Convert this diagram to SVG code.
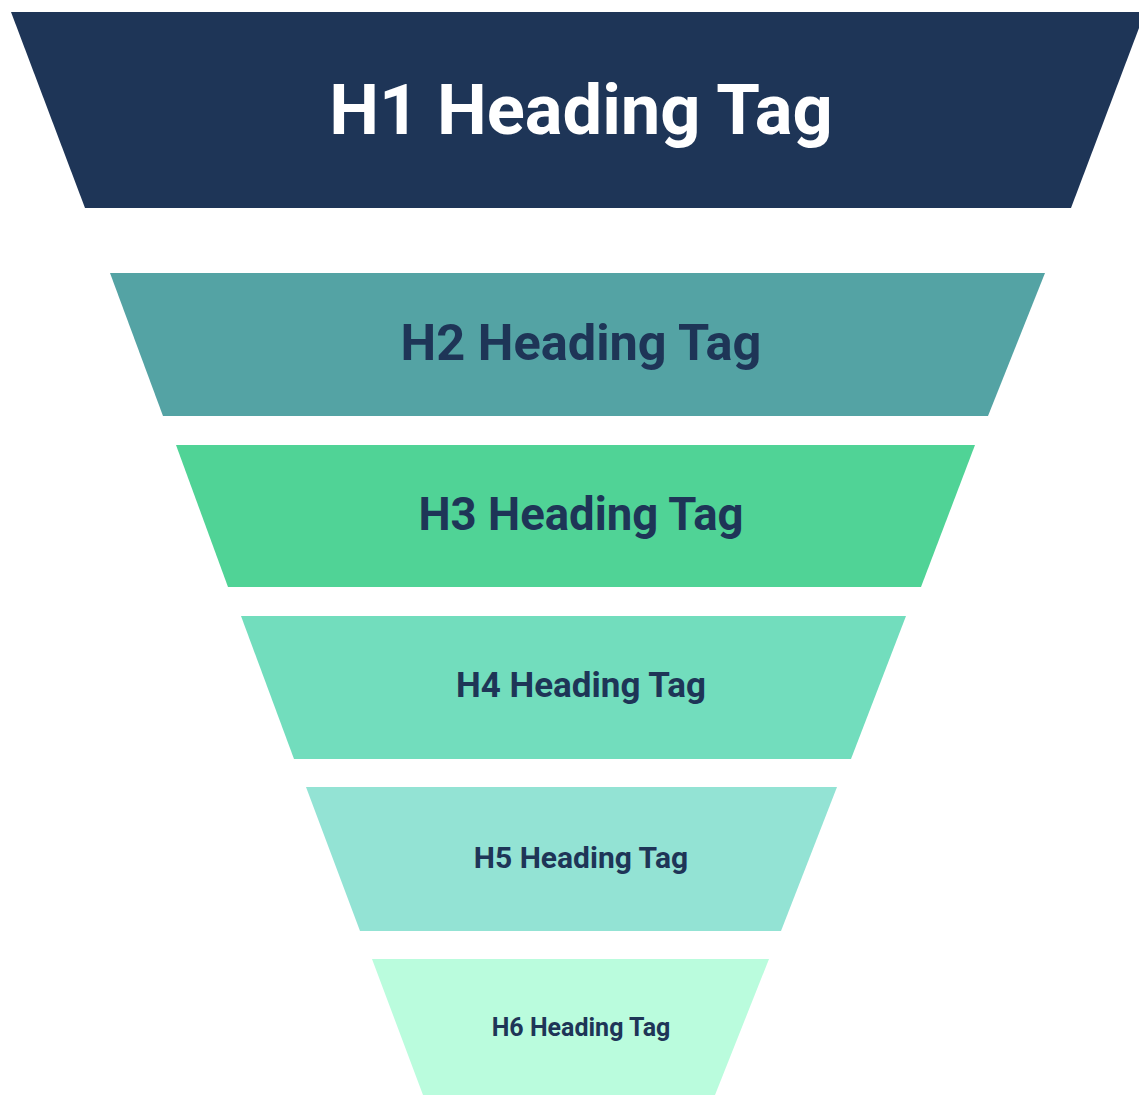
<svg xmlns="http://www.w3.org/2000/svg" width="1139" height="1095" viewBox="0 0 1139 1095">
<style>
.t{font-family:Roboto,"Liberation Sans",sans-serif;font-weight:bold;text-anchor:middle;fill:#1E3557}
</style>
<rect width="1139" height="1095" fill="#ffffff"/>
<g id="h1"><polygon points="11,12 1145,12 1071,208 85,208" fill="#1E3557"/><text class="t" x="581" y="134" font-size="70.5" style="fill:#ffffff">H1 Heading Tag</text></g>
<g id="h2"><polygon points="110,273 1045,273 988,416 163,416" fill="#54A3A4"/><text class="t" x="581" y="360" font-size="50.5">H2 Heading Tag</text></g>
<g id="h3"><polygon points="176,445 975,445 921,587 228,587" fill="#50D396"/><text class="t" x="581" y="530" font-size="45.5">H3 Heading Tag</text></g>
<g id="h4"><polygon points="241,616 906,616 851,759 294,759" fill="#72DDBD"/><text class="t" x="581" y="697" font-size="35">H4 Heading Tag</text></g>
<g id="h5"><polygon points="306,787 837,787 781,931 360,931" fill="#93E3D4"/><text class="t" x="581" y="868" font-size="30">H5 Heading Tag</text></g>
<g id="h6"><polygon points="372,959 769,959 715,1095 423,1095" fill="#BAFCDD"/><text class="t" x="581" y="1036" font-size="25">H6 Heading Tag</text></g>
<g id="connectors"/>
</svg>
